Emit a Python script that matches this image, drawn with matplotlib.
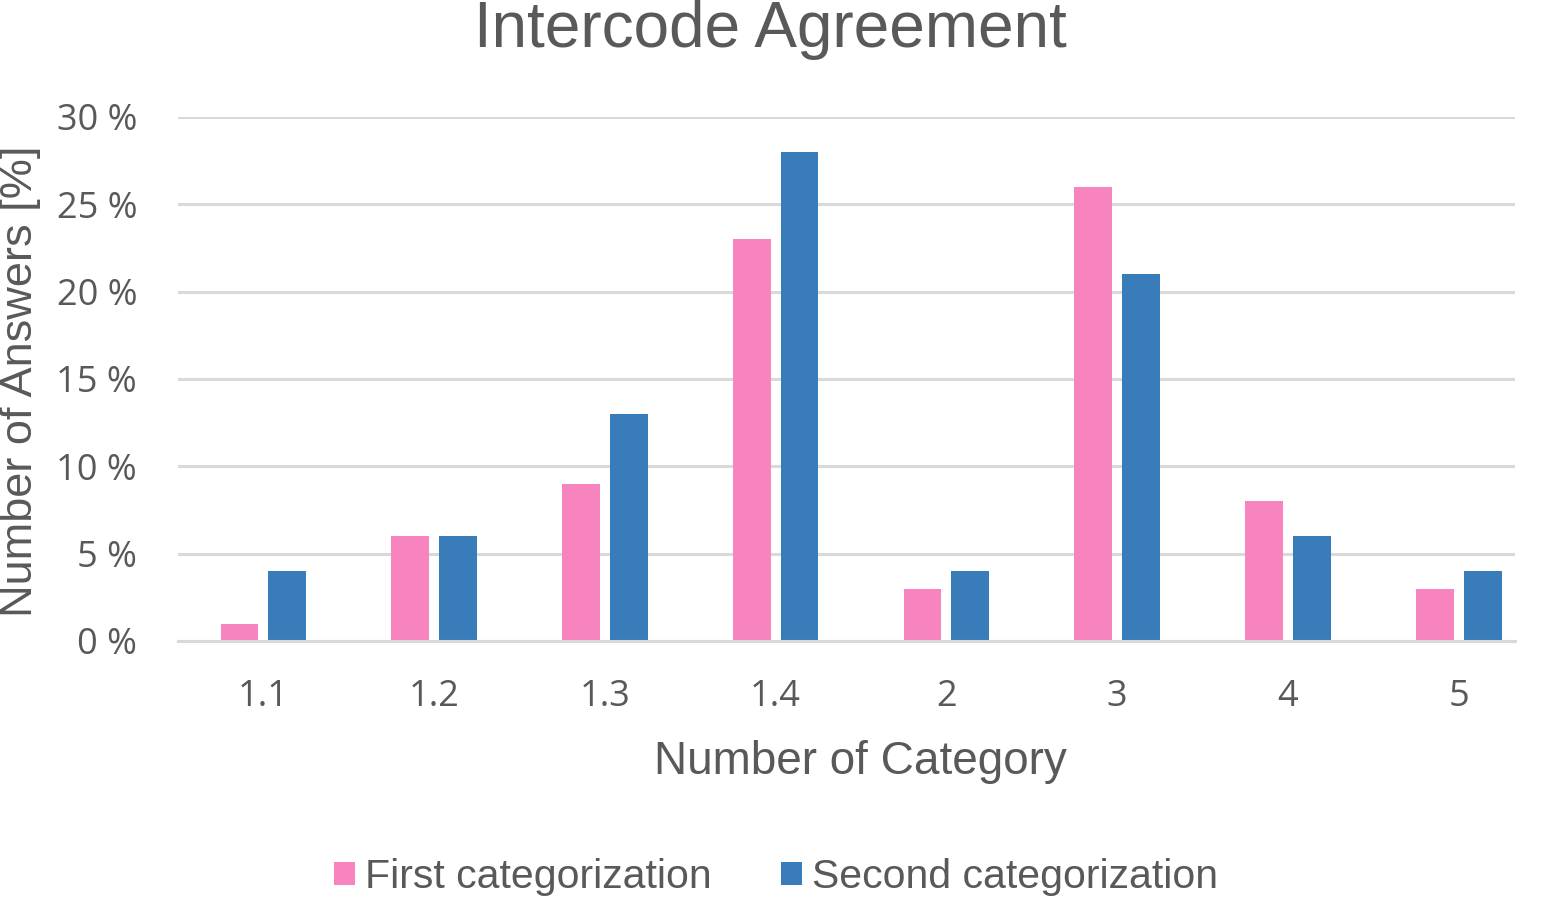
import matplotlib
matplotlib.use("Agg")
import matplotlib.pyplot as plt
import numpy as np
from matplotlib.ticker import FuncFormatter

categories = ["1.1", "1.2", "1.3", "1.4", "2", "3", "4", "5"]
first = [1, 6, 9, 23, 3, 26, 8, 3]
second = [4, 6, 13, 28, 4, 21, 6, 4]
yticks = [0, 5, 10, 15, 20, 25, 30]

pink = "#F783BF"
blue = "#387DB9"
gray = "#595959"

W, H = 1545, 900
fig = plt.figure(figsize=(W / 100, H / 100), dpi=100)
ax = fig.add_axes([178 / W, 1 - 641 / H, (1515 - 178) / W, (641 - 117) / H])

x = np.arange(len(categories))
bw = 0.222
off = 0.14
ax.bar(x - off, first, bw, color=pink, label="First categorization", zorder=3)
ax.bar(x + off, second, bw, color=blue, label="Second categorization", zorder=3)

ax.set_xlim(-0.5, 7.33)
ax.set_ylim(0, 30)
ax.set_yticks(yticks)
ax.yaxis.set_major_formatter(FuncFormatter(lambda v, p: f"{int(v)} %"))
ax.set_xticks(x)
ax.set_xticklabels(categories)
ax.grid(axis="y", color="#D9D9D9", linewidth=2.2, zorder=0)
for s in ["top", "right", "left"]:
    ax.spines[s].set_visible(False)
ax.spines["bottom"].set_color("#D9D9D9")
ax.spines["bottom"].set_linewidth(2.2)
ax.spines["bottom"].set_zorder(4)
ax.tick_params(axis="both", length=0, colors=gray, labelsize=26)
for lab in ax.get_xticklabels() + ax.get_yticklabels():
    lab.set_fontfamily("Open Sans")
ax.tick_params(axis="y", pad=29.5)
ax.tick_params(axis="x", pad=27)

fig.text(770 / W, 1 - 30 / H, "Intercode Agreement", ha="center", va="center",
         fontsize=46, color=gray, family="Liberation Sans")
fig.text(860 / W, 1 - 762 / H, "Number of Category", ha="center", va="center",
         fontsize=33, color=gray, family="Liberation Sans")
fig.text(21 / W, 1 - 381 / H, "Number of Answers [%]", ha="center", va="center",
         rotation=90, fontsize=32.5, color=gray, family="Liberation Sans")

leg = fig.legend(loc="center", bbox_to_anchor=(776 / W, 1 - 877 / H), ncol=2,
                 frameon=False, handlelength=0.5, handleheight=0.5,
                 handletextpad=0.25, columnspacing=1.7,
                 prop={"family": "Liberation Sans", "size": 29.5})
for t in leg.get_texts():
    t.set_color(gray)

fig.savefig("out.png", dpi=100)
